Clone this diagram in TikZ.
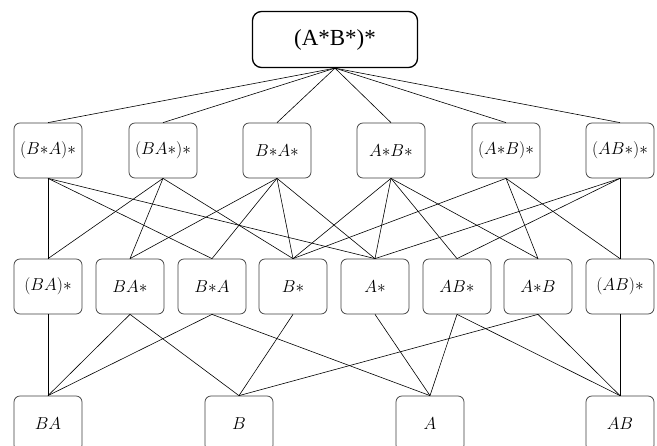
\documentclass[tikz,border=0pt]{standalone}
\usepackage{fontspec}
\newfontfamily\topfont{Liberation Serif}
\begin{document}
\begin{tikzpicture}[x=1pt,y=-1pt,
  box/.style={draw=black!75, line width=0.75pt, rounded corners=6pt,
    minimum width=68pt, minimum height=55pt, inner sep=0pt,
    font=\fontsize{19}{21}\selectfont},
  topbox/.style={draw=black, line width=1.3pt, rounded corners=9pt,
    minimum width=165pt, minimum height=56pt, inner sep=0pt,
    font=\topfont\fontsize{23}{26}\selectfont},
  link/.style={line width=0.6pt, draw=black}]
\clip (0,0) rectangle (657,446);
\fill[white] (0,0) rectangle (657,446);
% top
\node[topbox] (top) at (335,39.5) {(A*B*)*};
% row 2
\node[box] (r2a) at (48,150.5)  {$(B{*}A){*}$};
\node[box] (r2b) at (163,150.5) {$(BA{*}){*}$};
\node[box] (r2c) at (277,150.5) {$B{*}A{*}$};
\node[box] (r2d) at (391,150.5) {$A{*}B{*}$};
\node[box] (r2e) at (506,150.5) {$(A{*}B){*}$};
\node[box] (r2f) at (620,150.5) {$(AB{*}){*}$};
% row 3
\node[box] (r3a) at (48,286.5)  {$(BA){*}$};
\node[box] (r3b) at (130,286.5) {$BA{*}$};
\node[box] (r3c) at (212,286.5) {$B{*}A$};
\node[box] (r3d) at (293,286.5) {$B{*}$};
\node[box] (r3e) at (375,286.5) {$A{*}$};
\node[box] (r3f) at (457,286.5) {$AB{*}$};
\node[box] (r3g) at (538,286.5) {$A{*}B$};
\node[box] (r3h) at (620,286.5) {$(AB){*}$};
% row 4
\node[box] (r4a) at (48,423.5)  {$BA$};
\node[box] (r4b) at (239,423.5) {$B$};
\node[box] (r4c) at (430,423.5) {$A$};
\node[box] (r4d) at (620,423.5) {$AB$};
% edges top -> row 2
\foreach \n in {r2a,r2b,r2c,r2d,r2e,r2f}
  \draw[link] (top.south) -- (\n.north);
% row 2 -> row 3
\foreach \a/\b in {r2a/r3a,r2a/r3c,r2a/r3e,
                   r2b/r3a,r2b/r3b,r2b/r3d,
                   r2c/r3b,r2c/r3c,r2c/r3d,r2c/r3e,
                   r2d/r3d,r2d/r3e,r2d/r3f,r2d/r3g,
                   r2e/r3d,r2e/r3g,r2e/r3h,
                   r2f/r3e,r2f/r3f,r2f/r3h}
  \draw[link] (\a.south) -- (\b.north);
% row 3 -> row 4
\foreach \a/\b in {r3a/r4a,r3b/r4a,r3b/r4b,r3c/r4a,r3c/r4c,
                   r3d/r4b,r3e/r4c,r3f/r4c,r3f/r4d,
                   r3g/r4b,r3g/r4d,r3h/r4d}
  \draw[link] (\a.south) -- (\b.north);
\end{tikzpicture}
\end{document}
